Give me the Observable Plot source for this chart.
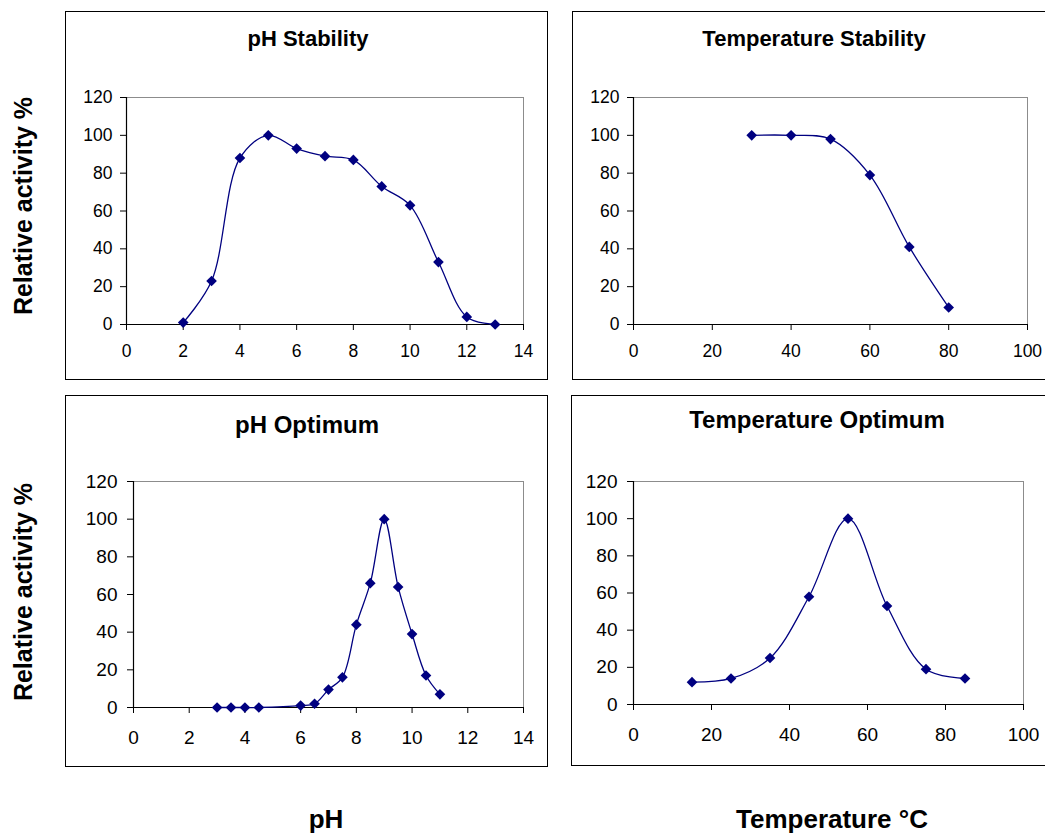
<!DOCTYPE html>
<html>
<head>
<meta charset="utf-8">
<script src="https://cdn.jsdelivr.net/npm/d3@7"></script>
<script src="https://cdn.jsdelivr.net/npm/@observablehq/plot@0.6"></script>
<style>
  html, body { margin: 0; padding: 0; background: #fff; overflow: hidden; }
  #root { position: relative; width: 1045px; height: 833px; overflow: hidden; font-family: "Liberation Sans", Arial, sans-serif; }
  .box { position: absolute; box-sizing: border-box; border: 1.6px solid #000; }
  .plot { position: absolute; }
  .txt { position: absolute; white-space: nowrap; line-height: 1; font-weight: bold; color: #000; }
</style>
</head>
<body>
<div id="root"></div>
<script>
// ---- data ----
const phStabX = [2, 3, 4, 5, 6, 7, 8, 9, 10, 11, 12, 13];
const phStabY = [1, 23, 88, 100, 93, 89, 87, 73, 63, 33, 4, 0];

const tempStabX = [30, 40, 50, 60, 70, 80];
const tempStabY = [100, 100, 98, 79, 41, 9];

const phOptX = [3, 3.5, 4, 4.5, 6, 6.5, 7, 7.5, 8, 8.5, 9, 9.5, 10, 10.5, 11];
const phOptY = [0, 0, 0, 0, 1, 2, 9.5, 16, 44, 66, 100, 64, 39, 17, 7];

const tempOptX = [15, 25, 35, 45, 55, 65, 75, 85];
const tempOptY = [12, 14, 25, 58, 100, 53, 19, 14];

const yTicks = [0, 20, 40, 60, 80, 100, 120];
const phTicks = [0, 2, 4, 6, 8, 10, 12, 14];
const tempTicks = [0, 20, 40, 60, 80, 100];

const titles = ["pH Stability", "Temperature Stability", "pH Optimum", "Temperature Optimum"];
const yLabel = "Relative activity %";
const xLabels = ["pH", "Temperature °C"];

// ---- layout ----
const root = document.getElementById("root");
const FONT = '"Liberation Sans", Arial, sans-serif';

function addText(str, size, x, baseline, rotate) {
  const d = document.createElement("div");
  d.className = "txt";
  d.textContent = str;
  d.style.fontSize = size + "px";
  if (rotate) {
    const cx = x - 0.3465 * size;
    d.style.left = cx + "px";
    d.style.top = baseline + "px";
    d.style.transform = "translate(-50%,-50%) rotate(-90deg)";
  } else {
    d.style.left = x + "px";
    d.style.top = (baseline - 0.8465 * size) + "px";
    d.style.transform = "translateX(-50%)";
  }
  root.appendChild(d);
}

function panel(cfg) {
  const box = document.createElement("div");
  box.className = "box";
  box.style.left = cfg.left + "px";
  box.style.top = cfg.top + "px";
  box.style.width = cfg.width + "px";
  box.style.height = cfg.height + "px";
  root.appendChild(box);

  const data = cfg.xs.map((x, i) => ({x, y: cfg.ys[i]}));
  const xmax = cfg.xTicks[cfg.xTicks.length - 1];
  const p = Plot.plot({
    width: cfg.width,
    height: cfg.height,
    marginLeft: cfg.ml, marginRight: cfg.mr, marginTop: cfg.mt, marginBottom: cfg.mb,
    style: {fontFamily: FONT, color: "#000", background: "transparent", overflow: "visible"},
    x: {domain: [0, xmax], nice: false},
    y: {domain: [0, 120], nice: false},
    marks: [
      Plot.ruleY([120], {stroke: "#8c8c8c", strokeWidth: 1}),
      Plot.ruleX([xmax], {stroke: "#8c8c8c", strokeWidth: 1}),
      Plot.ruleX([0], {stroke: "#000", strokeWidth: 1.2}),
      Plot.ruleY([0], {stroke: "#000", strokeWidth: 1.2}),
      Plot.axisY({ticks: yTicks, tickSize: 6, tickPadding: cfg.yPad, fontSize: cfg.fs, label: null, tickFormat: d => String(d), stroke: "#000"}),
      Plot.axisX({ticks: cfg.xTicks, tickSize: 6, tickPadding: cfg.xPad, fontSize: cfg.fs, label: null, tickFormat: d => String(d), stroke: "#000"}),
      Plot.line(data, {x: "x", y: "y", curve: "catmull-rom", stroke: "#000080", strokeWidth: 1.3}),
      Plot.dot(data, {x: "x", y: "y", symbol: "diamond2", r: 4.8, fill: "#000080", stroke: "none"})
    ]
  });
  p.classList.add("plot");
  p.style.left = cfg.left + "px";
  p.style.top = cfg.top + "px";
  root.appendChild(p);

  addText(cfg.title, cfg.titleSize, cfg.titleX, cfg.titleBase);
}

panel({left: 65, top: 11, width: 483, height: 369, ml: 61, mr: 25, mt: 86, mb: 56,
  xs: phStabX, ys: phStabY, xTicks: phTicks, fs: 17.5, yPad: 8, xPad: 14,
  title: titles[0], titleSize: 22, titleX: 308, titleBase: 47});
panel({left: 572, top: 11, width: 478, height: 369, ml: 61, mr: 23, mt: 86, mb: 56,
  xs: tempStabX, ys: tempStabY, xTicks: tempTicks, fs: 17.5, yPad: 8, xPad: 14,
  title: titles[1], titleSize: 22, titleX: 814, titleBase: 47});
panel({left: 65, top: 395, width: 483, height: 372, ml: 68, mr: 25, mt: 86, mb: 60,
  xs: phOptX, ys: phOptY, xTicks: phTicks, fs: 19, yPad: 10, xPad: 17,
  title: titles[2], titleSize: 24, titleX: 307, titleBase: 433});
panel({left: 571, top: 395, width: 479, height: 371, ml: 62, mr: 27, mt: 86, mb: 62,
  xs: tempOptX, ys: tempOptY, xTicks: tempTicks, fs: 19, yPad: 10, xPad: 17,
  title: titles[3], titleSize: 24, titleX: 817, titleBase: 428});

addText(yLabel, 25, 32, 206, true);
addText(yLabel, 25, 32, 592, true);
addText(xLabels[0], 26, 326, 828);
addText(xLabels[1], 26, 832, 828);
</script>
</body>
</html>
